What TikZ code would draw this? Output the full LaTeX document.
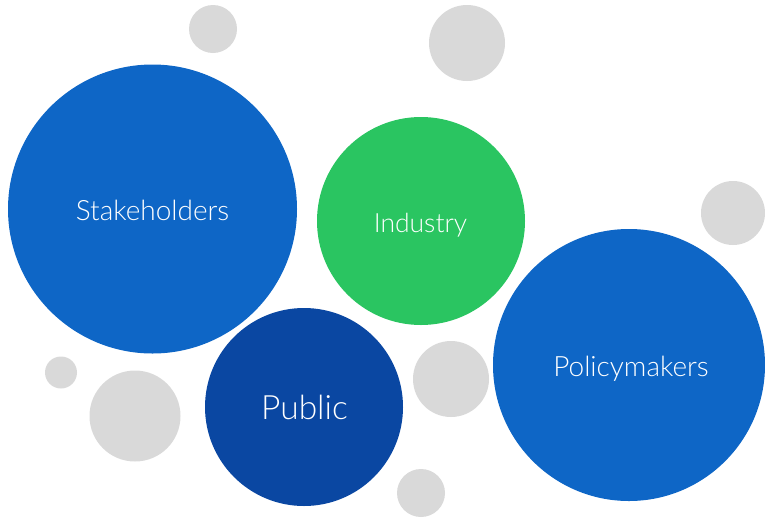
\documentclass[tikz,border=0pt]{standalone}
\usepackage{fontspec}
\setmainfont{Lato Light}
\definecolor{bubbleblue}{HTML}{0E66C6}
\definecolor{bubbledark}{HTML}{0A47A2}
\definecolor{bubblegreen}{HTML}{2AC561}
\definecolor{bubblegray}{HTML}{D9D9D9}
\begin{document}
\begin{tikzpicture}[x=1pt,y=-1pt,
  bubble/.style={circle,inner sep=0pt,outer sep=0pt,draw=none},
  bigbubble/.style={bubble,fill=bubbleblue},
  darkbubble/.style={bubble,fill=bubbledark},
  greenbubble/.style={bubble,fill=bubblegreen},
  graybubble/.style={bubble,fill=bubblegray},
  bubbletext/.style={anchor=base,text=white,inner sep=0pt,font=\fontsize{28}{32}\selectfont}]
\useasboundingbox (0,0) rectangle (765,517);
% grey accent bubbles
\node[graybubble,minimum size=48pt] (g1) at (213,29) {};
\node[graybubble,minimum size=76pt] (g2) at (467,43) {};
\node[graybubble,minimum size=64pt] (g3) at (733,213) {};
\node[graybubble,minimum size=32pt] (g4) at (61,372.5) {};
\node[graybubble,minimum size=91pt] (g5) at (135,416) {};
\node[graybubble,minimum size=76pt] (g6) at (451,379) {};
\node[graybubble,minimum size=48pt] (g7) at (421,493) {};
% main bubbles
\node[bigbubble,minimum size=289pt] (stake) at (152.5,209) {};
\node[greenbubble,minimum size=208pt] (ind) at (421,221) {};
\node[bigbubble,minimum size=272pt] (policy) at (629,365) {};
\node[darkbubble,minimum size=198pt] (pub) at (304,407) {};
% labels
\node[bubbletext] (stakeT) at (152.5,220) {Stakeholders};
\node[bubbletext,font=\fontsize{26.5}{30}\selectfont] (indT) at (420.5,232.5) {Industry};
\node[bubbletext] (policyT) at (631,376) {Policymakers};
\node[bubbletext,font=\fontsize{33.5}{38}\selectfont] (pubT) at (304.5,419) {Public};
\end{tikzpicture}
\end{document}
